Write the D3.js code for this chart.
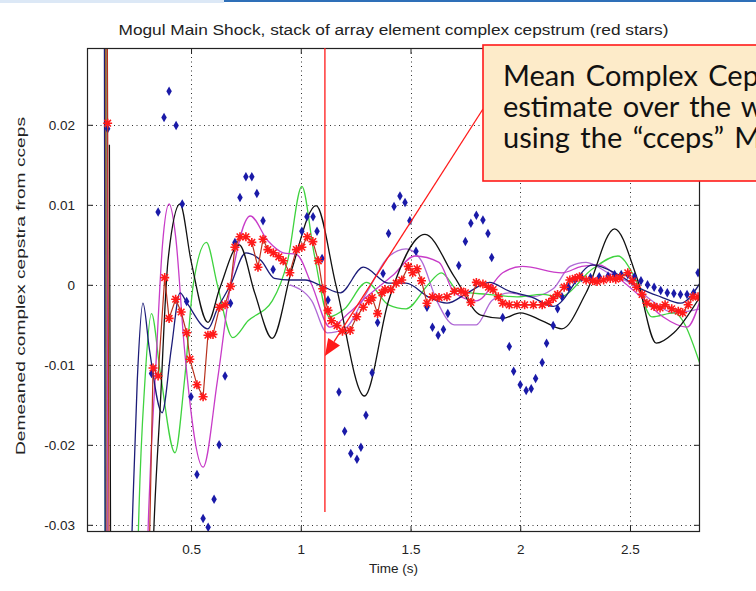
<!DOCTYPE html>
<html><head><meta charset="utf-8">
<script src="https://cdn.jsdelivr.net/npm/d3@7"></script>
<style>
html,body{margin:0;padding:0;background:#fff;}
svg{display:block;}
</style></head><body>
<svg id="c" width="756" height="591"></svg>
<script>
// ---------- axis settings / ticks ----------
const xTicks = [0.5, 1, 1.5, 2, 2.5];
const xTickLabels = ["0.5", "1", "1.5", "2", "2.5"];
const yTicks = [-0.03, -0.02, -0.01, 0, 0.01, 0.02];
const yTickLabels = ["-0.03", "-0.02", "-0.01", "0", "0.01", "0.02"];
const xDomain = [0.026, 2.819];
const yDomain = [-0.0309, 0.0296];
const titleText = "Mogul Main Shock, stack of array element complex cepstrum (red stars)";
const xLabel = "Time (s)";
const yLabel = "Demeaned complex cepstra from cceps";
const noteLines = ["Mean Complex Cep", "estimate over the w", "using the \u201ccceps\u201d M"];
const markerTime = 1.11;
const arrowTip = [1.11, -0.0089];

// ---------- series (time s, value) ----------
const edgeTeal = [[0.106, 0.06], [0.109, -0.06]];
const edgeBrown = [[0.110, 0.06], [0.113, -0.06]];
const edgeCrimson = [[0.114, 0.06], [0.118, -0.06]];

const blackLine = [[0.128, 0.0175], [0.14, -0.06], [0.30, -0.06], [0.33, -0.031], [0.36, -0.015], [0.395, 0.003],
  [0.45, 0.0101], [0.50, 0.003], [0.577, -0.0047], [0.63, -0.0005], [0.72, 0.0050], [0.79, -0.001], [0.87, -0.0067],
  [0.96, 0.002], [1.07, 0.0099], [1.16, 0.0], [1.29, -0.0139], [1.40, -0.002], [1.566, 0.0063], [1.70, 0.001],
  [1.82, -0.0038], [1.92, -0.0042], [2.0, -0.0035], [2.10, -0.0045], [2.19, -0.0055], [2.30, -0.001], [2.43, 0.0070],
  [2.53, 0.001], [2.62, -0.0073], [2.70, -0.006], [2.819, -0.0015]];

const navyLine = [[0.104, 0.06], [0.112, -0.06], [0.20, -0.06], [0.231, -0.031], [0.255, -0.012], [0.281, -0.0023],
  [0.31, -0.008], [0.368, -0.016], [0.41, -0.008], [0.45, -0.001], [0.48, -0.0022], [0.577, -0.0055], [0.62, -0.003],
  [0.68, 0.0], [0.75, 0.004], [0.82, 0.003], [0.88, 0.0008], [0.95, 0.0006], [1.02, 0.0006], [1.10, -0.0002],
  [1.18, -0.001], [1.285, 0.0022], [1.40, 0.0002], [1.48, 0.0002], [1.58, -0.0015], [1.666, -0.0023], [1.76, -0.001],
  [1.86, 0.0003], [1.95, -0.0008], [2.05, -0.0015], [2.15, -0.0027], [2.33, 0.0025], [2.45, 0.0012], [2.55, -0.0005],
  [2.64, -0.0015], [2.73, -0.0023], [2.819, 0.0002]];

const greenLine = [[0.116, 0.06], [0.12, -0.06], [0.24, -0.06], [0.26, -0.031], [0.29, -0.012], [0.32, -0.0036],
  [0.36, -0.011], [0.427, -0.021], [0.47, -0.012], [0.51, 0.0], [0.57, 0.0053], [0.62, 0.0], [0.69, -0.0066],
  [0.76, -0.0045], [0.87, -0.002], [0.94, 0.003], [1.005, 0.0123], [1.06, 0.004], [1.13, -0.004], [1.20, -0.003],
  [1.30, 0.0003], [1.40, -0.0025], [1.48, -0.003], [1.58, 0.0], [1.64, 0.0015], [1.72, -0.0008], [1.85, -0.0012],
  [1.985, -0.0015], [2.10, -0.0012], [2.18, -0.0015], [2.33, 0.002], [2.445, 0.0036], [2.52, 0.001], [2.60, -0.004],
  [2.70, -0.0035], [2.819, -0.0099]];

const magentaLine = [[0.118, 0.06], [0.122, -0.06], [0.28, -0.06], [0.304, -0.031], [0.34, -0.01], [0.37, 0.005],
  [0.40, 0.0101], [0.43, 0.006], [0.47, -0.008], [0.555, -0.0228], [0.62, -0.012], [0.68, 0.0], [0.77, 0.0086],
  [0.85, 0.0055], [0.92, 0.004], [0.98, 0.0038], [1.05, 0.0], [1.133, -0.0053], [1.22, -0.0035], [1.30, -0.0015],
  [1.42, 0.0012], [1.52, 0.0036], [1.63, 0.0028], [1.70, -0.001], [1.80, -0.002], [1.92, 0.0015], [2.01, 0.0023],
  [2.19, 0.0015], [2.28, 0.0023], [2.36, 0.0025], [2.45, 0.0008], [2.55, -0.0015], [2.65, -0.004], [2.76, -0.0053],
  [2.819, -0.002]];

const violetLine = [[0.95, 0.0], [1.05, -0.002], [1.12, -0.006], [1.20, -0.0055], [1.30, -0.001], [1.40, 0.0035],
  [1.48, 0.0045], [1.55, 0.003], [1.62, -0.002], [1.70, -0.005], [1.80, -0.005], [1.87, -0.002], [1.95, -0.001],
  [2.05, -0.0015], [2.15, -0.0005], [2.227, 0.0023], [2.30, 0.0028], [2.40, 0.0015], [2.50, 0.0002], [2.60, -0.002],
  [2.70, -0.0035], [2.819, -0.003]];

const meanStars = [[0.115, 0.06], [0.12, 0.0202], [0.13, -0.06], [0.29, -0.06], [0.327, -0.0104], [0.35, -0.0114],
  [0.38, 0.0009], [0.40, -0.0042], [0.43, -0.0018], [0.455, -0.0034], [0.48, -0.006], [0.495, -0.0093], [0.527, -0.0125],
  [0.555, -0.014], [0.577, -0.0063], [0.60, -0.0062], [0.63, -0.0028], [0.655, -0.0025], [0.68, -0.0002], [0.70, 0.0047],
  [0.723, 0.006], [0.75, 0.006], [0.777, 0.0053], [0.805, 0.0022], [0.828, 0.0057], [0.85, 0.0044], [0.875, 0.004],
  [0.90, 0.0035], [0.92, 0.003], [0.95, 0.0015], [0.98, 0.0044], [1.005, 0.0047], [1.03, 0.006], [1.055, 0.0054],
  [1.08, 0.003], [1.10, -0.0005], [1.124, -0.0032], [1.14, -0.0045], [1.165, -0.0051], [1.19, -0.0058], [1.225, -0.0057],
  [1.255, -0.004], [1.285, -0.0028], [1.31, -0.002], [1.325, -0.0016], [1.35, -0.0036], [1.37, -0.001], [1.384, -0.0006],
  [1.41, -0.0006], [1.435, 0.0002], [1.46, 0.0006], [1.49, 0.0023], [1.51, 0.0015], [1.53, 0.002], [1.55, 0.0005],
  [1.575, -0.0023], [1.60, -0.0015], [1.63, -0.0016], [1.666, -0.0015], [1.70, -0.0008], [1.73, -0.0008], [1.75, -0.001],
  [1.775, -0.0022], [1.80, 0.0003], [1.83, 0.0001], [1.855, -0.0003], [1.876, -0.0006], [1.90, -0.0015], [1.92, -0.0023],
  [1.95, -0.0025], [1.985, -0.0025], [2.02, -0.0025], [2.06, -0.0025], [2.10, -0.0025], [2.13, -0.0022], [2.15, -0.0017],
  [2.17, -0.0012], [2.20, -0.0003], [2.226, 0.0006], [2.25, 0.0008], [2.27, 0.001], [2.30, 0.0006], [2.33, 0.0005],
  [2.35, 0.0004], [2.38, 0.0006], [2.41, 0.0008], [2.435, 0.0007], [2.454, 0.0009], [2.49, 0.0015], [2.51, 0.0005],
  [2.53, -0.0003], [2.555, -0.0012], [2.577, -0.0023], [2.61, -0.0027], [2.637, -0.0029], [2.66, -0.0025], [2.69, -0.003],
  [2.72, -0.0033], [2.74, -0.0035], [2.765, -0.0025], [2.787, -0.0015], [2.81, -0.0015]];

const blueDiamonds = [[0.12, 0.0195], [0.35, 0.0091], [0.377, 0.0209], [0.40, 0.0242], [0.432, 0.0199], [0.46, 0.0101],
  [0.32, -0.0111], [0.48, -0.0021], [0.50, -0.014], [0.527, -0.0237], [0.555, -0.0292], [0.578, -0.0303], [0.605, -0.0268],
  [0.628, -0.020], [0.655, -0.0114], [0.68, -0.0023], [0.70, 0.0053], [0.723, 0.0109], [0.75, 0.0135], [0.777, 0.0135],
  [0.80, 0.0114], [0.828, 0.008], [0.874, 0.0019], [1.005, 0.0067], [1.028, 0.0085], [1.056, 0.0085], [1.074, 0.0067],
  [1.097, 0.0033], [1.124, -0.0019], [1.174, -0.0134], [1.20, -0.0183], [1.228, -0.0211], [1.256, -0.0218],
  [1.274, -0.0203], [1.297, -0.0163], [1.325, -0.011], [1.35, -0.0047], [1.375, 0.0014], [1.40, 0.0064], [1.425, 0.0098],
  [1.452, 0.0111], [1.475, 0.0103], [1.497, 0.008], [1.525, 0.0042], [1.575, -0.0028], [1.60, -0.0053], [1.626, -0.0063],
  [1.65, -0.0056], [1.67, -0.0036], [1.72, 0.0024], [1.75, 0.0054], [1.775, 0.0077], [1.80, 0.0087], [1.83, 0.0081],
  [1.853, 0.0064], [1.87, 0.0034], [1.92, -0.0041], [1.95, -0.0077], [1.97, -0.0108], [2.0, -0.0125], [2.027, -0.0132],
  [2.05, -0.013], [2.07, -0.0117], [2.10, -0.0097], [2.12, -0.0073], [2.15, -0.0051], [2.17, -0.003], [2.19, -0.0015],
  [2.22, -0.0003], [2.25, 0.0006], [2.28, 0.0009], [2.32, 0.0009], [2.36, 0.001], [2.40, 0.0011], [2.43, 0.0013],
  [2.46, 0.0013], [2.49, 0.0013], [2.52, 0.001], [2.55, 0.0005], [2.58, 0.0], [2.61, -0.0003], [2.64, -0.0007],
  [2.67, -0.001], [2.70, -0.0011], [2.73, -0.0012], [2.76, -0.0012], [2.79, -0.001], [2.81, 0.0015]];

// ---------- drawing ----------
const W = 756, H = 591;
const plot = {left: 87, right: 700, top: 48, bottom: 532};
const svg = d3.select("#c");
const x = d3.scaleLinear().domain(xDomain).range([plot.left, plot.right]);
const y = d3.scaleLinear().domain(yDomain).range([plot.bottom, plot.top]);
const FONT = "'Liberation Sans', Arial, sans-serif";

// top strip (slide frame)
svg.append("rect").attr("x", 0).attr("y", 0).attr("width", 224).attr("height", 3).attr("fill", "#dce8f6");
svg.append("rect").attr("x", 224).attr("y", 0).attr("width", W - 224).attr("height", 2).attr("fill", "#2e6fb8");

svg.append("defs").append("clipPath").attr("id", "clip")
  .append("rect").attr("x", plot.left).attr("y", plot.top)
  .attr("width", plot.right - plot.left).attr("height", plot.bottom - plot.top);

// grid
const grid = svg.append("g").attr("stroke", "#333").attr("stroke-width", 1).attr("stroke-dasharray", "1,3.5");
grid.selectAll(".gx").data(xTicks).join("line")
  .attr("x1", d => Math.round(x(d)) + 0.5).attr("x2", d => Math.round(x(d)) + 0.5)
  .attr("y1", plot.top).attr("y2", plot.bottom);
grid.selectAll(".gy").data(yTicks).join("line")
  .attr("y1", d => Math.round(y(d)) + 0.5).attr("y2", d => Math.round(y(d)) + 0.5)
  .attr("x1", plot.left).attr("x2", plot.right);

const g = svg.append("g").attr("clip-path", "url(#clip)");
const smooth = d3.line().x(d => x(d[0])).y(d => y(d[1])).curve(d3.curveMonotoneX);
const straight = d3.line().x(d => x(d[0])).y(d => y(d[1]));

const lineSeries = [
  {data: edgeTeal, color: "#1f8a8a"},
  {data: edgeBrown, color: "#a8741e"},
  {data: edgeCrimson, color: "#e0206a"},
  {data: violetLine, color: "#b06ad6"},
  {data: greenLine, color: "#3fd33f"},
  {data: magentaLine, color: "#c83cc8"},
  {data: navyLine, color: "#1c1c78"},
  {data: blackLine, color: "#111111"}
];
g.selectAll(".ln").data(lineSeries).join("path")
  .attr("d", d => smooth(d.data)).attr("fill", "none")
  .attr("stroke", d => d.color).attr("stroke-width", 1.3);

// blue diamonds
g.selectAll(".dm").data(blueDiamonds).join("path")
  .attr("transform", d => `translate(${x(d[0])},${y(d[1])})`)
  .attr("d", d3.symbol(d3.symbolDiamond, 26)())
  .attr("fill", "#1a1aa8");

// mean line with red stars
g.append("path").attr("d", straight(meanStars)).attr("fill", "none")
  .attr("stroke", "#b8321e").attr("stroke-width", 1.2);
const starPath = "M-4.5,0L4.5,0M0,-4.5L0,4.5M-3.3,-3.3L3.3,3.3M-3.3,3.3L3.3,-3.3";
g.selectAll(".st").data(meanStars).join("path")
  .attr("transform", d => `translate(${x(d[0])},${y(d[1])})`)
  .attr("d", starPath).attr("fill", "none")
  .attr("stroke", "#ff1a1a").attr("stroke-width", 1.6);

// axes box
svg.append("rect").attr("x", plot.left + 0.5).attr("y", plot.top + 0.5)
  .attr("width", plot.right - plot.left - 1).attr("height", plot.bottom - plot.top - 1)
  .attr("fill", "none").attr("stroke", "#222").attr("stroke-width", 1.2);

// axes ticks + labels
const xAxis = d3.axisBottom(x).tickValues(xTicks).tickSizeInner(-6).tickSizeOuter(0)
  .tickFormat((d, i) => xTickLabels[i]).tickPadding(12);
const yAxis = d3.axisLeft(y).tickValues(yTicks).tickSizeInner(-6).tickSizeOuter(0)
  .tickFormat((d, i) => yTickLabels[i]).tickPadding(12);
const xg = svg.append("g").attr("transform", `translate(0,${plot.bottom})`).call(xAxis);
const yg = svg.append("g").attr("transform", `translate(${plot.left},0)`).call(yAxis);
const xgTop = svg.append("g").attr("transform", `translate(0,${plot.top})`)
  .call(d3.axisTop(x).tickValues(xTicks).tickSizeInner(-6).tickSizeOuter(0).tickFormat(""));
const ygRight = svg.append("g").attr("transform", `translate(${plot.right},0)`)
  .call(d3.axisRight(y).tickValues(yTicks).tickSizeInner(-6).tickSizeOuter(0).tickFormat(""));
[xg, yg, xgTop, ygRight].forEach(a => {
  a.select(".domain").remove();
  a.selectAll("line").attr("stroke", "#222");
  a.selectAll("text").attr("font-family", FONT).attr("font-size", 13.5).attr("fill", "#222");
});

// titles
svg.append("text").attr("x", (plot.left + plot.right) / 2).attr("y", 35)
  .attr("text-anchor", "middle").attr("font-family", FONT).attr("font-size", 14).attr("fill", "#222")
  .attr("textLength", 550).attr("lengthAdjust", "spacingAndGlyphs").text(titleText);
svg.append("text").attr("x", (plot.left + plot.right) / 2).attr("y", 573)
  .attr("text-anchor", "middle").attr("font-family", FONT).attr("font-size", 13.5).attr("fill", "#222")
  .text(xLabel);
svg.append("text").attr("transform", `translate(25,${(plot.top + plot.bottom) / 2 - 4}) rotate(-90)`)
  .attr("text-anchor", "middle").attr("font-family", FONT).attr("font-size", 13.5).attr("fill", "#222")
  .attr("textLength", 338).attr("lengthAdjust", "spacingAndGlyphs").text(yLabel);

// annotation: vertical marker + arrow + note box
svg.append("line").attr("x1", x(markerTime)).attr("x2", x(markerTime))
  .attr("y1", plot.top).attr("y2", y(-0.0284)).attr("stroke", "#ff1a1a").attr("stroke-width", 1.3);

const boxX = 483, boxY = 45, boxH = 136;
const tipX = x(arrowTip[0]), tipY = y(arrowTip[1]);
const startX = boxX, startY = 109;
const ang = Math.atan2(tipY - startY, tipX - startX);
const headLen = 17, headW = 7;
const bx = tipX - headLen * Math.cos(ang), by = tipY - headLen * Math.sin(ang);
svg.append("line").attr("x1", startX).attr("y1", startY).attr("x2", bx).attr("y2", by)
  .attr("stroke", "#ff1a1a").attr("stroke-width", 1.3);
svg.append("path").attr("d", `M${tipX},${tipY}L${bx + headW * Math.sin(ang)},${by - headW * Math.cos(ang)}L${bx - headW * Math.sin(ang)},${by + headW * Math.cos(ang)}Z`)
  .attr("fill", "#ff1a1a");

svg.append("rect").attr("x", boxX).attr("y", boxY).attr("width", W - boxX + 10).attr("height", boxH)
  .attr("fill", "#fdebc9").attr("stroke", "#ff1a1a").attr("stroke-width", 1.6);
svg.append("g").selectAll("text").data(noteLines).join("text")
  .attr("x", 503).attr("y", (d, i) => 86 + i * 31)
  .attr("font-family", "Lato, 'Open Sans', sans-serif").attr("font-size", 29).attr("word-spacing", 3)
  .attr("fill", "#111")
  .text(d => d);
</script>
</body></html>
